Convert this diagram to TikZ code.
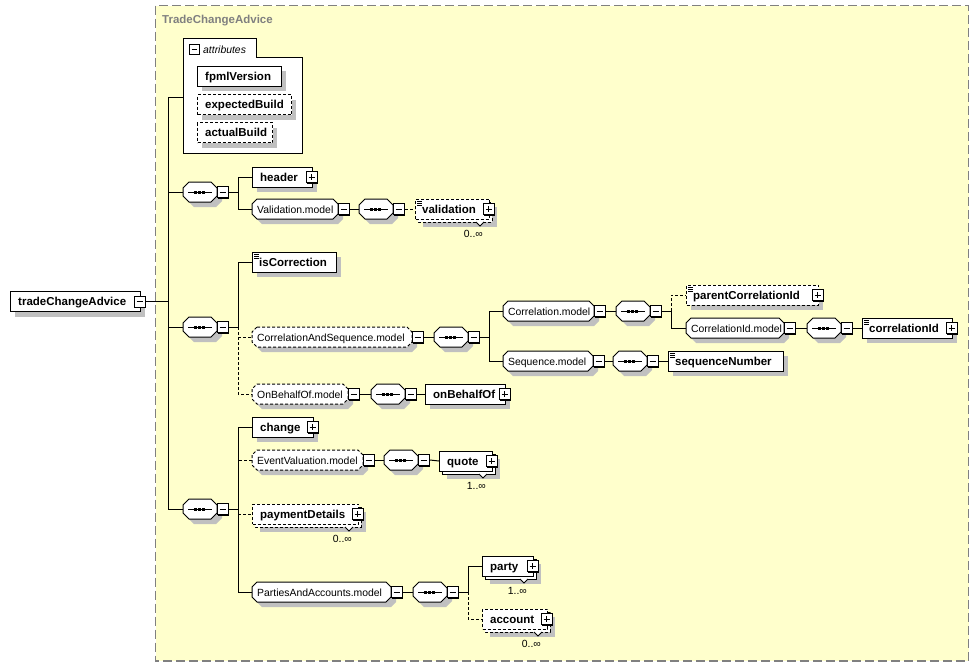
\documentclass[tikz,border=0pt]{standalone}
\usepackage{fontspec}
\setmainfont{Liberation Sans}
\definecolor{bgyellow}{HTML}{FFFFCC}
\definecolor{shgray}{HTML}{C0C0C0}
\definecolor{frgray}{HTML}{808080}
\newcommand\fbold{\fontsize{11.5}{13}\selectfont\bfseries}
\newcommand\freg{\fontsize{10.4}{12}\selectfont}
\tikzset{
  conn/.style={line width=1pt, black},
  optdash/.style={dash pattern=on 3pt off 2pt},
}
% chamfered outline: x1, x2, yc, chamfer
\newcommand\chamf[4]{(#1+#4,#3-10) -- (#2-#4,#3-10) -- (#2,#3-10+#4) -- (#2,#3+10-#4) -- (#2-#4,#3+10) -- (#1+#4,#3+10) -- (#1,#3+10-#4) -- (#1,#3-10+#4) -- cycle}
% plus/minus box: name, x, yc, 1=plus
\newcommand\pmbox[4]{%
  \fill[black] (#2+1,#3-4.5) rectangle (#2+12.2,#3+6.7);
  \node[draw, fill=white, line width=1pt, minimum size=11pt, inner sep=0, anchor=west] (#1) at (#2,#3) {};
  \draw[line width=1pt] (#2+2.5,#3) -- (#2+8.5,#3);
  \ifnum#4=1 \draw[line width=1pt] (#2+5.5,#3-3) -- (#2+5.5,#3+3);\fi
}
% element: [opts] name, x1, x2, yc, text, icon, plus, repeat label
\newcommand\elem[9][]{%
  \pgfmathsetmacro\ew{#4-#3}%
  \def\tmprep{#9}%
  \ifx\tmprep\empty
    \fill[shgray] (#3+5,#5-5) rectangle (#4+5,#5+15);
  \else
    \fill[shgray] (#3+8,#5-2) rectangle (#4+8,#5+18);
    \draw[fill=white, line width=1pt, #1] (#3+3,#5-7) rectangle (#4+3,#5+13);
    \draw[fill=white, line width=1pt] (#4-13,#5+13) -- (#4-9,#5+17) -- (#4-5,#5+13);
    \node[font=\freg, anchor=base east, inner sep=0] (#2r) at (#4-6,#5+28) {#9};
  \fi
  \node[draw, fill=white, line width=1pt, #1, minimum width=\ew pt, minimum height=20pt, inner sep=0, anchor=west] (#2) at (#3,#5) {};
  \ifnum#7=1
    \foreach \k in {2.5,4.5,6.5} \draw[line width=0.8pt] (#3+2,#5-10+\k) -- (#3+7,#5-10+\k);
    \node[font=\fbold, anchor=base west, inner sep=0] (#2t) at (#3+7,#5+4) {#6};
  \else
    \node[font=\fbold, anchor=base west, inner sep=0] (#2t) at (#3+8,#5+4) {#6};
  \fi
  \ifnum#8=1 \pmbox{#2p}{#4-6}{#5}{1}\fi
}
% model group: [opts] name, x1, x2, yc, text
\newcommand\model[6][]{%
  \pgfmathsetmacro\ew{#4-#3}%
  \fill[shgray] \chamf{#3+5}{#4+5}{#5+5}{5};
  \draw[fill=white, line width=1pt, #1] \chamf{#3}{#4}{#5}{5};
  \node[minimum width=\ew pt, minimum height=20pt, inner sep=0, anchor=west] (#2) at (#3,#5) {};
  \node[font=\freg, anchor=base west, inner sep=0] (#2t) at (#3+5,#5+4) {#6};
  \pmbox{#2m}{#4}{#5}{0}
}
% sequence compositor: name, x1, yc
\newcommand\seqg[3]{%
  \fill[shgray] \chamf{#2+5}{#2+39}{#3+5}{6};
  \draw[fill=white, line width=1pt] \chamf{#2}{#2+34}{#3}{6};
  \node[minimum width=34pt, minimum height=20pt, inner sep=0, anchor=west] (#1) at (#2,#3) {};
  \draw[line width=1pt] (#2+5,#3) -- (#2+29,#3);
  \foreach \k in {12.5,16.5,20.5} \fill (#2+\k-1.5,#3-1.5) rectangle (#2+\k+1.5,#3+1.5);
  \pmbox{#1m}{#2+34}{#3}{0}
}
\begin{document}
\begin{tikzpicture}[x=1pt, y=-1pt]
\useasboundingbox (0,0) rectangle (980,667);
\fill[white] (0,0) rectangle (980,667);
% container
\draw[frgray, line width=1.2pt, dash pattern=on 9pt off 4pt, fill=bgyellow] (155.5,5.5) rectangle (968.5,661);
\node[font=\fbold, text=frgray, anchor=base west, inner sep=0] (title) at (162,23) {TradeChangeAdvice};

% root
\elem{root}{10}{140}{301.5}{tradeChangeAdvice}{0}{0}{}
\pmbox{rootm}{134}{301.5}{0}

% attributes
\draw[fill=white, line width=1pt] (183,38) -- (256,38) -- (256,57) -- (302,57) -- (302,153) -- (183,153) -- cycle;
\node[minimum width=119pt, minimum height=115pt, inner sep=0, anchor=north west] (attr) at (183,38) {};
\node[draw, fill=white, line width=1pt, minimum size=10pt, inner sep=0, anchor=west] (attrm) at (189,49.5) {};
\draw[line width=1pt] (attrm.west) ++(2.5,0) -- ++(5,0);
\node[font=\freg\itshape, anchor=base west, inner sep=0] (attrt) at (203,53) {attributes};
\coordinate (attrin) at (183,97);
\elem{fpmlVersion}{197}{281}{76}{fpmlVersion}{0}{0}{}
\elem[optdash]{expectedBuild}{197}{291}{104.5}{expectedBuild}{0}{0}{}
\elem[optdash]{actualBuild}{197}{272}{132.5}{actualBuild}{0}{0}{}

% sequence 1
\seqg{s1}{183}{192}
\elem{header}{252}{312}{177}{header}{0}{1}{}
\model{valm}{252}{338}{209}{Validation.model}
\seqg{sv}{359}{209}
\elem[optdash]{validation}{415}{489}{209}{validation}{1}{1}{0..∞}

% sequence 2
\seqg{s2}{183}{327}
\elem{isCorrection}{252}{336}{262}{isCorrection}{1}{0}{}
\model[optdash]{csm}{252}{412}{337}{CorrelationAndSequence.model}
\seqg{scs}{434}{337}
\model{corrm}{503}{594}{311}{Correlation.model}
\seqg{scorr}{616}{311}
\elem[optdash]{parentCorrelationId}{686}{818}{295}{parentCorrelationId}{1}{1}{}
\model{cidm}{686}{784}{328}{CorrelationId.model}
\seqg{scid}{807}{328}
\elem{correlationId}{862}{952}{328}{correlationId}{1}{1}{}
\model{seqm}{503}{593}{361}{Sequence.model}
\seqg{sseq}{613}{361}
\elem{sequenceNumber}{668}{783}{361}{sequenceNumber}{1}{0}{}
\model[optdash]{obm}{252}{348}{394}{OnBehalfOf.model}
\seqg{sob}{371}{394}
\elem{onBehalfOf}{425}{505}{394}{onBehalfOf}{0}{1}{}

% sequence 3
\seqg{s3}{183}{509}
\elem{change}{252}{313}{427}{change}{0}{1}{}
\model[optdash]{evm}{252}{363}{460}{EventValuation.model}
\seqg{sev}{384}{460}
\elem{quote}{439}{492}{461}{quote}{0}{1}{1..∞}
\elem[optdash]{paymentDetails}{252}{358}{514}{paymentDetails}{0}{1}{0..∞}
\model{pam}{252}{391}{592}{PartiesAndAccounts.model}
\seqg{spa}{413}{592}
\elem{party}{482}{533}{566}{party}{0}{1}{1..∞}
\elem[optdash]{account}{482}{547}{619}{account}{0}{1}{0..∞}

% connectors
\coordinate (bus0) at (168,301.5);
\draw[conn] (rootm.east) -- (bus0);
\draw[conn] (bus0) |- (attrin);
\draw[conn] (bus0) |- (s1.west);
\draw[conn] (bus0) |- (s2.west);
\draw[conn] (bus0) |- (s3.west);

\draw[conn] (s1m.east) -- ++(9,0) coordinate (b1);
\draw[conn] (b1) |- (header.west);
\draw[conn] (b1) |- (valm.west);
\draw[conn] (valmm.east) -- (sv.west);
\draw[conn, optdash] (svm.east) -- (validation.west);

\draw[conn] (s2m.east) -- ++(9,0) coordinate (b2);
\draw[conn] (b2) |- (isCorrection.west);
\draw[conn, optdash] (b2) |- (csm.west);
\draw[conn, optdash] (b2) |- (obm.west);
\draw[conn] (csmm.east) -- (scs.west);
\draw[conn] (scsm.east) -- ++(9,0) coordinate (b3);
\draw[conn] (b3) |- (corrm.west);
\draw[conn] (b3) |- (seqm.west);
\draw[conn] (corrmm.east) -- (scorr.west);
\draw[conn] (scorrm.east) -- ++(9,0) coordinate (b4);
\draw[conn, optdash] (b4) |- (parentCorrelationId.west);
\draw[conn] (b4) |- (cidm.west);
\draw[conn] (cidmm.east) -- (scid.west);
\draw[conn] (scidm.east) -- (correlationId.west);
\draw[conn] (seqmm.east) -- (sseq.west);
\draw[conn] (sseqm.east) -- (sequenceNumber.west);
\draw[conn] (obmm.east) -- (sob.west);
\draw[conn] (sobm.east) -- (onBehalfOf.west);

\draw[conn] (s3m.east) -- ++(9,0) coordinate (b5);
\draw[conn] (b5) |- (change.west);
\draw[conn, optdash] (b5) |- (evm.west);
\draw[conn, optdash] (b5) |- (paymentDetails.west);
\draw[conn] (b5) |- (pam.west);
\draw[conn] (evmm.east) -- (sev.west);
\draw[conn] (sevm.east) -- (quote.west);
\draw[conn] (pamm.east) -- (spa.west);
\draw[conn] (spam.east) -- ++(9,0) coordinate (b6);
\draw[conn] (b6) |- (party.west);
\draw[conn, optdash] (b6) |- (account.west);
\end{tikzpicture}
\end{document}
